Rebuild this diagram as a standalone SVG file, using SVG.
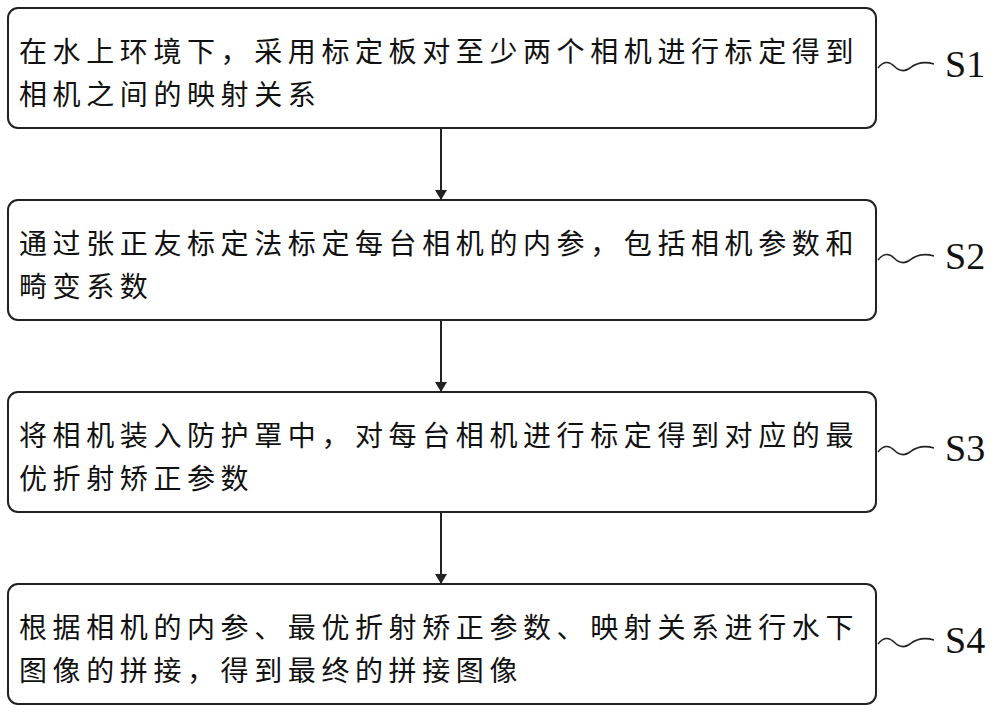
<svg xmlns="http://www.w3.org/2000/svg" width="1000" height="713" viewBox="0 0 1000 713">
<style>
.box{fill:#fff;stroke:#222;stroke-width:2}
.t{font-family:"Noto Sans CJK SC",sans-serif;font-size:28px;letter-spacing:5.6px;fill:#111}
.s{font-family:"Liberation Serif",serif;font-size:38px;fill:#111}
.w{fill:none;stroke:#222;stroke-width:1.6}
.c{stroke:#222;stroke-width:2}
</style>
<defs><marker id="a" markerWidth="10" markerHeight="12" refX="9" refY="6" orient="auto" markerUnits="userSpaceOnUse"><path d="M0,0 L10,6 L0,12 Z" fill="#222"/></marker></defs>
<rect width="1000" height="713" fill="#fff"/>
<g id="n1"><rect class="box" x="8" y="8" width="868" height="120" rx="10"/><text class="t" x="19" y="62">在水上环境下，采用标定板对至少两个相机进行标定得到</text><text class="t" x="19" y="105">相机之间的映射关系</text><path class="w" d="M878,68 q8,-10 16,-2 q8,8 16,2 q10,-8 24,-4"/><text class="s" x="945" y="77">S1</text></g>
<g id="n2"><rect class="box" x="8" y="200" width="868" height="120" rx="10"/><text class="t" x="19" y="254">通过张正友标定法标定每台相机的内参，包括相机参数和</text><text class="t" x="19" y="297">畸变系数</text><path class="w" d="M878,260 q8,-10 16,-2 q8,8 16,2 q10,-8 24,-4"/><text class="s" x="945" y="269">S2</text></g>
<g id="n3"><rect class="box" x="8" y="392" width="868" height="120" rx="10"/><text class="t" x="19" y="446">将相机装入防护罩中，对每台相机进行标定得到对应的最</text><text class="t" x="19" y="489">优折射矫正参数</text><path class="w" d="M878,452 q8,-10 16,-2 q8,8 16,2 q10,-8 24,-4"/><text class="s" x="945" y="461">S3</text></g>
<g id="n4"><rect class="box" x="8" y="584" width="868" height="120" rx="10"/><text class="t" x="19" y="638">根据相机的内参、最优折射矫正参数、映射关系进行水下</text><text class="t" x="19" y="681">图像的拼接，得到最终的拼接图像</text><path class="w" d="M878,644 q8,-10 16,-2 q8,8 16,2 q10,-8 24,-4"/><text class="s" x="945" y="653">S4</text></g>
<g id="edges"><line class="c" x1="441" y1="128" x2="441" y2="199" marker-end="url(#a)"/><line class="c" x1="441" y1="320" x2="441" y2="391" marker-end="url(#a)"/><line class="c" x1="441" y1="512" x2="441" y2="583" marker-end="url(#a)"/></g>
</svg>
